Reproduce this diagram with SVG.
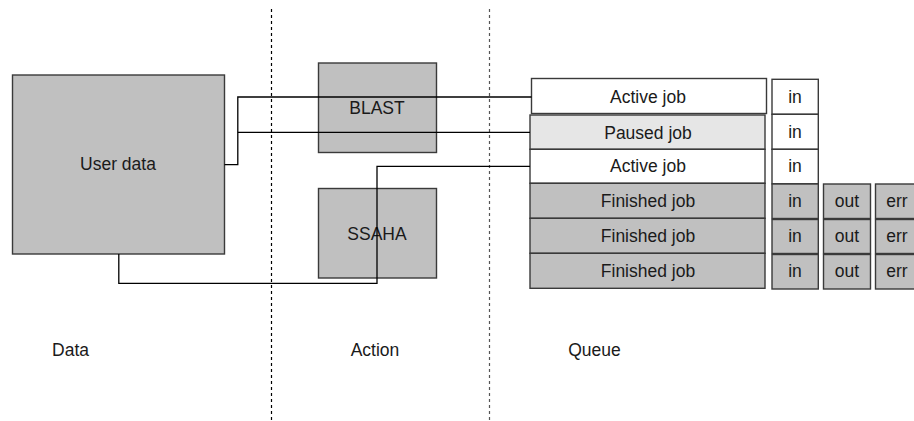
<svg xmlns="http://www.w3.org/2000/svg" width="914" height="421" viewBox="0 0 914 421">
<style>
text{font-family:"Liberation Sans",Arial,sans-serif;font-size:17.5px;fill:#1a1a1a;text-anchor:middle}
.g{fill:#c0c0c0;stroke:#3a3a3a;stroke-width:1.4}
.w{fill:#ffffff;stroke:#3a3a3a;stroke-width:1.4}
.p{fill:#e6e6e6;stroke:#3a3a3a;stroke-width:1.4}
.c{fill:none;stroke:#000;stroke-width:1.3}
.d{stroke-width:1.2;stroke-dasharray:3,3}
</style>
<rect width="914" height="421" fill="#fff"/>
<g id="dividers">
<line class="d" x1="271.5" y1="9" x2="271.5" y2="421" stroke="#000"/>
<line class="d" x1="489.5" y1="9" x2="489.5" y2="421" stroke="#555"/>
</g>
<g id="user-data"><rect class="g" x="12.5" y="75" width="212" height="179"/><text x="118" y="170">User data</text></g>
<g id="blast"><rect class="g" x="318.5" y="63" width="118" height="89.5"/><text x="377" y="114">BLAST</text></g>
<g id="ssaha"><rect class="g" x="318.5" y="188.5" width="118" height="89.5"/><text x="377" y="240">SSAHA</text></g>
<g id="queue">
<g id="job1"><rect class="w" x="531.5" y="78.5" width="235" height="35"/><text x="648" y="103">Active job</text></g>
<g id="job2"><rect class="p" x="530" y="115" width="235" height="34.3"/><text x="648" y="138.5">Paused job</text></g>
<g id="job3"><rect class="w" x="530" y="149.3" width="235" height="34"/><text x="648" y="172">Active job</text></g>
<g id="job4"><rect class="g" x="530" y="183.3" width="235" height="35"/><text x="648" y="207">Finished job</text></g>
<g id="job5"><rect class="g" x="530" y="218.3" width="235" height="35"/><text x="648" y="242">Finished job</text></g>
<g id="job6"><rect class="g" x="530" y="253.3" width="235" height="35"/><text x="648" y="277">Finished job</text></g>
</g>
<g id="files">
<g id="in1"><rect class="w" x="772" y="79.3" width="46.3" height="35"/><text x="795" y="103">in</text></g>
<g id="in2"><rect class="w" x="772" y="114.3" width="46.3" height="35"/><text x="795" y="138">in</text></g>
<g id="in3"><rect class="w" x="772" y="149.3" width="46.3" height="34.5"/><text x="795" y="172">in</text></g>
<g id="in4"><rect class="g" x="772" y="184" width="46.3" height="34.5"/><text x="795" y="207">in</text></g>
<g id="in5"><rect class="g" x="772" y="219.5" width="46.3" height="34"/><text x="795" y="242">in</text></g>
<g id="in6"><rect class="g" x="772" y="254.5" width="46.3" height="34.5"/><text x="795" y="277">in</text></g>
<g id="out4"><rect class="g" x="823.5" y="184" width="47" height="34.5"/><text x="847" y="207">out</text></g>
<g id="out5"><rect class="g" x="823.5" y="219.5" width="47" height="34"/><text x="847" y="242">out</text></g>
<g id="out6"><rect class="g" x="823.5" y="254.5" width="47" height="34.5"/><text x="847" y="277">out</text></g>
<g id="err4"><rect class="g" x="875.5" y="184" width="45" height="34.5"/><text x="897" y="207">err</text></g>
<g id="err5"><rect class="g" x="875.5" y="219.5" width="45" height="34"/><text x="897" y="242">err</text></g>
<g id="err6"><rect class="g" x="875.5" y="254.5" width="45" height="34.5"/><text x="897" y="277">err</text></g>
</g>
<g id="connectors">
<path class="c" d="M224.5,164.7 H237.8 V97 H531.5"/>
<path class="c" d="M237.8,132.3 H530"/>
<path class="c" d="M118.8,254 V283.3 H377 V166.3 H530"/>
</g>
<g id="labels">
<text x="70.5" y="356">Data</text>
<text x="375" y="356">Action</text>
<text x="594.5" y="356">Queue</text>
</g>
</svg>
